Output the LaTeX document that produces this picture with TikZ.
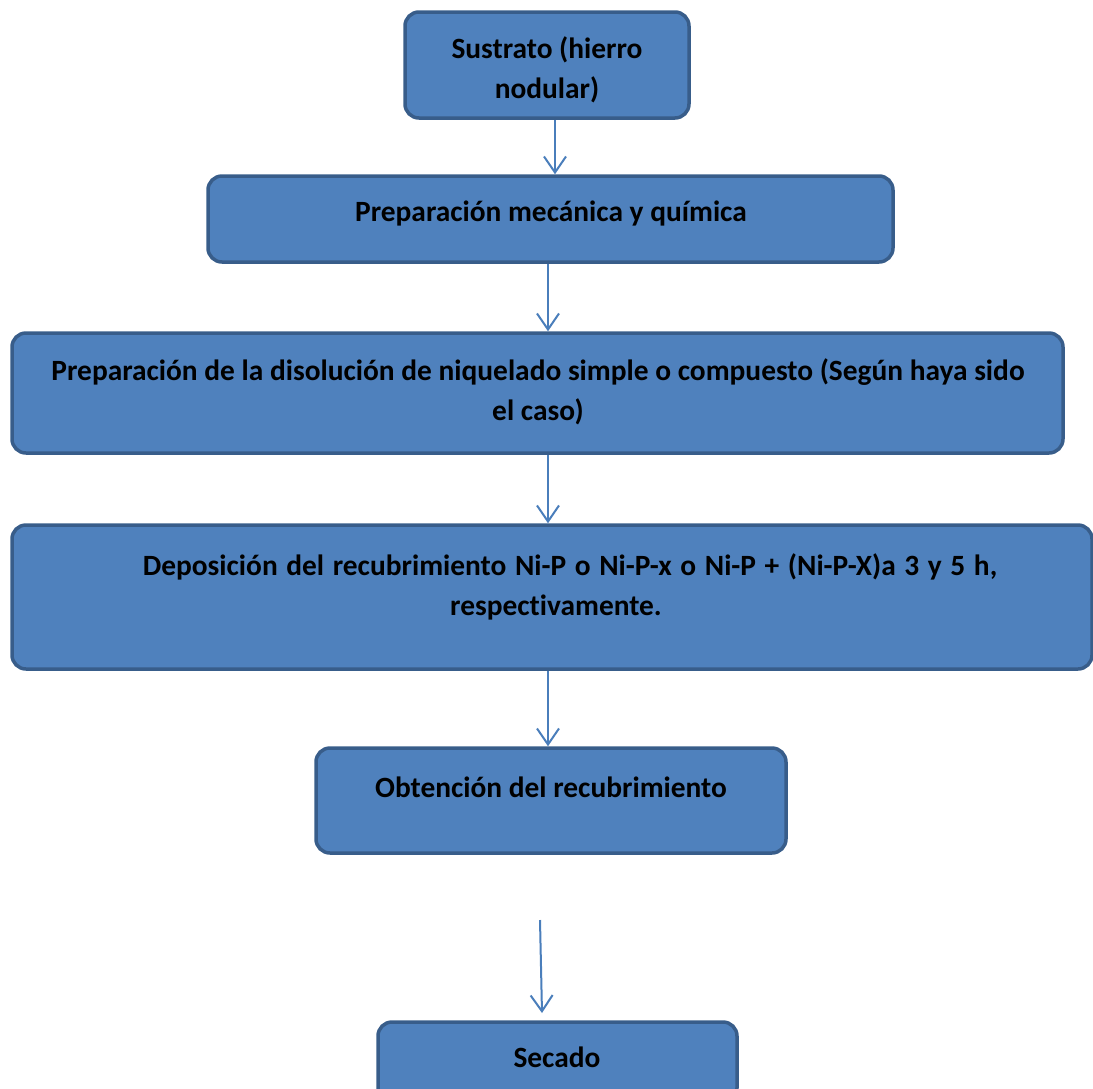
\documentclass[tikz,border=0pt]{standalone}
\usepackage{fontspec}
\setmainfont{Carlito}[Ligatures=NoCommon]
\usetikzlibrary{arrows.meta}
\definecolor{boxfill}{HTML}{4F81BD}
\definecolor{boxline}{HTML}{385D8A}
\definecolor{arrowcol}{HTML}{4A7EBB}
\begin{document}
\begin{tikzpicture}[x=1pt,y=-1pt,
  stepbox/.style={draw=boxline, fill=boxfill, line width=3.5pt, rounded corners=14pt, inner sep=0pt},
  lbl/.style={font=\fontsize{29.4}{40}\selectfont\bfseries, align=center, anchor=base, inner sep=0pt},
  flow/.style={draw=arrowcol, line width=2pt, -{Straight Barb[length=16pt,width=22pt]}}]
\clip (0,0) rectangle (1093,1088);
\useasboundingbox (0,0) rectangle (1093,1088);

% process boxes
\node[stepbox, minimum width=284pt, minimum height=106pt] (b1) at (547,65) {};
\node[stepbox, minimum width=685pt, minimum height=86pt] (b2) at (550.5,219) {};
\node[stepbox, minimum width=1051pt, minimum height=120pt] (b3) at (537.5,393) {};
\node[stepbox, minimum width=1080pt, minimum height=144pt] (b4) at (552,597) {};
\node[stepbox, minimum width=470pt, minimum height=105pt] (b5) at (551,800.5) {};
\node[stepbox, minimum width=359pt, minimum height=80pt] (b6) at (557.5,1062) {};

% box texts (base anchor sits on the last line)
\node[lbl] (t1) at (547,98) {Sustrato (hierro\\nodular)};
\node[lbl] (t2) at (551,221) {Preparación mecánica y química};
\node[lbl] (t3) at (538,420) {Preparación de la disolución de niquelado simple o compuesto (Según haya sido\\el caso)};
\node[lbl] (t4) at (556,615) {\hspace*{28pt}{\spaceskip=8.6pt Deposición del recubrimiento Ni-P o Ni-P-x o Ni-P + (Ni-P-X)a 3 y 5 h,}\\respectivamente.};
\node[lbl] (t5) at (551,797) {Obtención del recubrimiento};
\node[lbl] (t6) at (557,1067) {Secado};

% connectors
\coordinate (x1) at (555,0);
\coordinate (x2) at (548,0);
\draw[flow] (b1.south -| x1) -- (b2.north -| x1);
\draw[flow] (b2.south -| x2) -- (b3.north -| x2);
\draw[flow] (b3.south -| x2) -- (b4.north -| x2);
\draw[flow] (b4.south -| x2) -- (b5.north -| x2);
\coordinate (s5) at (540,920);
\coordinate (e5) at (542,1013);
\draw[flow] (s5) -- (e5);
\end{tikzpicture}
\end{document}
